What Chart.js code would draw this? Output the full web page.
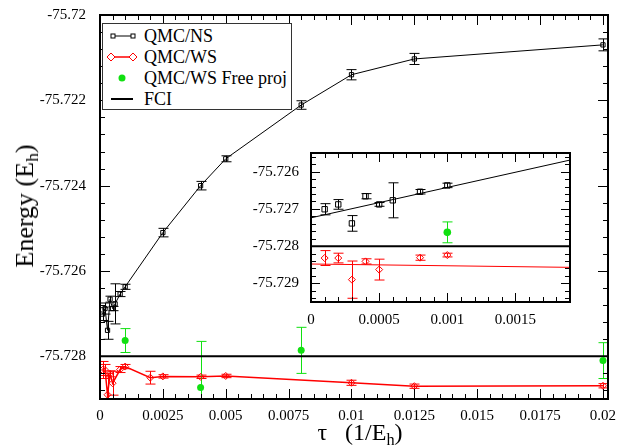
<!DOCTYPE html>
<html>
<head>
<meta charset="utf-8">
<script src="https://cdn.jsdelivr.net/npm/chart.js@4.4.1/dist/chart.umd.min.js"></script>
<style>
  html, body { margin: 0; padding: 0; background: #fff; }
  #wrap { position: relative; width: 623px; height: 447px; font-family: "Liberation Serif", "Times New Roman", serif; color: #000; }
  #main { position: absolute; left: 0; top: 0; }
  #inset { position: absolute; left: 240px; top: 140px; }
  .legend { position: absolute; left: 102px; top: 23px; width: 190px; height: 87px; border: 1px solid #333; background: #fff; box-sizing: border-box; }
  .lt { position: absolute; left: 144px; font-size: 18px; line-height: 20px; white-space: nowrap; }
  #sym { position: absolute; left: 0; top: 0; }
  .ytitle { position: absolute; left: 25px; top: 206px; font-size: 26px; white-space: nowrap; transform: translate(-50%, -50%) rotate(-90deg); }
  .xtitle { position: absolute; left: 360px; top: 419px; font-size: 24px; white-space: nowrap; transform: translateX(-50%); }
  .sub { font-size: 0.68em; position: relative; top: 0.3em; }
</style>
</head>
<body>
<div id="wrap">
  <canvas id="main" width="623" height="447"></canvas>
  <div class="legend"></div>
  <svg id="sym" width="623" height="447">
    <line x1="113" y1="36" x2="133" y2="36" stroke="#000" stroke-width="1"/>
    <rect x="111" y="34" width="4" height="4" fill="#fff" stroke="#000" stroke-width="1"/>
    <rect x="131" y="34" width="4" height="4" fill="#fff" stroke="#000" stroke-width="1"/>
    <line x1="111" y1="57" x2="133" y2="57" stroke="#f00" stroke-width="1.5"/>
    <polygon points="111,53 115,57 111,61 107,57" fill="#fff" stroke="#f00" stroke-width="1"/>
    <polygon points="133,53 137,57 133,61 129,57" fill="#fff" stroke="#f00" stroke-width="1"/>
    <circle cx="122" cy="78" r="3.5" fill="#11e011"/>
    <line x1="111" y1="99" x2="133" y2="99" stroke="#000" stroke-width="2"/>
  </svg>
  <div class="lt" style="top:26px">QMC/NS</div>
  <div class="lt" style="top:47px">QMC/WS</div>
  <div class="lt" style="top:68px">QMC/WS Free proj</div>
  <div class="lt" style="top:89px">FCI</div>
  <canvas id="inset" width="345" height="185"></canvas>
  <div class="ytitle">Energy (E<span class="sub">h</span>)</div>
  <div class="xtitle">τ&nbsp;&nbsp;&nbsp;(1/E<span class="sub">h</span>)</div>
</div>
<script>
// ── Data ───────────────────────────────────────────────────────────────────
const TAU_NS = [0.0001, 0.0002, 0.0003, 0.0004, 0.0005, 0.0006, 0.0008, 0.001, 0.0025, 0.004, 0.005, 0.008, 0.01, 0.0125, 0.02];
const E_NS   = [-75.72701, -75.72688, -75.72739, -75.72666, -75.72688, -75.72677, -75.72654, -75.72637, -75.7251, -75.724, -75.72337, -75.72211, -75.7214, -75.72103, -75.7207];
const ERR_NS = [0.00015, 0.00013, 0.00021, 0.00007, 0.00005, 0.00047, 0.00006, 0.00006, 0.0001, 0.0001, 0.00007, 0.0001, 0.00012, 0.00013, 0.00014];

const TAU_WS = [0.0001, 0.0002, 0.0003, 0.0004, 0.0005, 0.0008, 0.001, 0.002, 0.0025, 0.004, 0.005, 0.01, 0.0125, 0.02];
const E_WS   = [-75.72832, -75.72832, -75.7289, -75.72841, -75.72863, -75.72831, -75.72824, -75.7285, -75.72847, -75.72848, -75.72846, -75.72862, -75.7287, -75.72869];
const ERR_WS = [0.0002, 0.00013, 0.0005, 0.00007, 0.00028, 0.00007, 0.00005, 0.00015, 0.00004, 0.00004, 0.00004, 0.00006, 0.00005, 0.00005];

const TAU_FREE = [0.001, 0.004, 0.008, 0.02];
const E_FREE   = [-75.72763, -75.72873, -75.72786, -75.7281];
const ERR_FREE = [0.00028, 0.00108, 0.00054, 0.00042];

const FCI_E = -75.728;

// linear fits shown in the inset (end points)
const FIT_TAU = [0, 0.0019];
const FIT_NS  = [-75.72724, -75.72569];
const FIT_WS  = [-75.72848, -75.72857];

// axes
const X_RANGE = [0, 0.0202];
const Y_RANGE = [-75.729, -75.72];
const X_TICKS = [0, 0.0025, 0.005, 0.0075, 0.01, 0.0125, 0.015, 0.0175, 0.02];
const X_TICK_LABELS = ['0', '0.0025', '0.005', '0.0075', '0.01', '0.0125', '0.015', '0.0175', '0.02'];
const Y_TICKS = [-75.728, -75.726, -75.724, -75.722, -75.72];
const Y_TICK_LABELS = ['-75.728', '-75.726', '-75.724', '-75.722', '-75.72'];

const IN_X_RANGE = [0, 0.0019];
const IN_Y_RANGE = [-75.7295, -75.7255];
const IN_X_TICKS = [0, 0.0005, 0.001, 0.0015];
const IN_X_TICK_LABELS = ['0', '0.0005', '0.001', '0.0015'];
const IN_Y_TICKS = [-75.729, -75.728, -75.727, -75.726];
const IN_Y_TICK_LABELS = ['-75.729', '-75.728', '-75.727', '-75.726'];

const FONT = 'Liberation Serif';
const RED = '#ff0000';
const GREEN = '#11e011';

const pts = (xs, ys) => xs.map((x, i) => ({ x, y: ys[i] }));

// minor tick positions anchored on a major value, inside [lo, hi]
function minorTicks(anchor, step, lo, hi) {
  const out = [];
  const k0 = Math.ceil((lo - anchor) / step - 1e-6), k1 = Math.floor((hi - anchor) / step + 1e-6);
  for (let k = k0; k <= k1; k++) out.push(anchor + k * step);
  return out;
}

// ── Plugins ────────────────────────────────────────────────────────────────
const plotBg = {
  id: 'plotBg',
  beforeDraw(chart) {
    const { ctx, chartArea: a } = chart;
    ctx.save();
    ctx.fillStyle = '#fff';
    ctx.fillRect(a.left, a.top, a.right - a.left, a.bottom - a.top);
    ctx.restore();
  }
};

const errorBars = {
  id: 'errorBars',
  beforeDatasetsDraw(chart, args, opts) {
    const { ctx, chartArea: a, scales: { y } } = chart;
    ctx.save();
    ctx.beginPath();
    ctx.rect(a.left, a.top, a.right - a.left, a.bottom - a.top);
    ctx.clip();
    chart.data.datasets.forEach((ds, i) => {
      if (!ds.errors) return;
      const meta = chart.getDatasetMeta(i);
      ctx.strokeStyle = ds.pointBorderColor;
      ctx.lineWidth = 1;
      meta.data.forEach((pt, j) => {
        const v = ds.data[j].y, e = ds.errors[j];
        const px = Math.round(pt.x) + 0.5;
        const top = y.getPixelForValue(v + e), bot = y.getPixelForValue(v - e);
        const cap = opts.cap;
        ctx.beginPath();
        ctx.moveTo(px, top); ctx.lineTo(px, bot);
        ctx.moveTo(px - cap, top); ctx.lineTo(px + cap, top);
        ctx.moveTo(px - cap, bot); ctx.lineTo(px + cap, bot);
        ctx.stroke();
      });
    });
    ctx.restore();
  }
};

// inward ticks on all four sides + frame, xmgrace style
const frameTicks = {
  id: 'frameTicks',
  afterDraw(chart, args, o) {
    const { ctx, chartArea: a, scales: { x, y } } = chart;
    ctx.save();
    ctx.strokeStyle = '#000';
    ctx.lineWidth = 1;
    const seg = (x1, y1, x2, y2) => { ctx.beginPath(); ctx.moveTo(x1, y1); ctx.lineTo(x2, y2); ctx.stroke(); };
    const xt = (vals, len) => vals.forEach(v => {
      const p = Math.round(x.getPixelForValue(v)) + 0.5;
      seg(p, a.bottom, p, a.bottom - len);
      seg(p, a.top, p, a.top + len);
    });
    const yt = (vals, len) => vals.forEach(v => {
      const p = Math.round(y.getPixelForValue(v)) + 0.5;
      seg(a.left, p, a.left + len, p);
      seg(a.right, p, a.right - len, p);
    });
    xt(o.xMinor, o.minorLen); xt(o.xMajor, o.majorLen);
    yt(o.yMinor, o.minorLen); yt(o.yMajor, o.majorLen);
    ctx.lineWidth = 2;
    ctx.strokeRect(a.left, a.top, a.right - a.left, a.bottom - a.top);
    ctx.restore();
  }
};

function axis(range, ticks, labels, pad, fit) {
  return {
    type: 'linear', min: range[0], max: range[1],
    grid: { display: false }, border: { display: false },
    afterBuildTicks: s => { s.ticks = ticks.map(v => ({ value: v })); },
    afterFit: fit,
    ticks: {
      autoSkip: false, maxRotation: 0, padding: pad, color: '#000',
      font: { family: FONT, size: 15 },
      callback: (v, i) => labels[i]
    }
  };
}

// ── Main chart ─────────────────────────────────────────────────────────────
new Chart(document.getElementById('main'), {
  type: 'scatter',
  data: {
    datasets: [
      { label: 'QMC/NS', data: pts(TAU_NS, E_NS), errors: ERR_NS, showLine: true,
        borderColor: '#000', borderWidth: 1, pointStyle: 'rect', pointRadius: 3,
        pointBackgroundColor: 'rgba(0,0,0,0)', pointBorderColor: '#000', pointBorderWidth: 1 },
      { label: 'QMC/WS', data: pts(TAU_WS, E_WS), errors: ERR_WS, showLine: true,
        borderColor: RED, borderWidth: 1.5, pointStyle: 'rectRot', pointRadius: 3.5,
        pointBackgroundColor: 'rgba(0,0,0,0)', pointBorderColor: RED, pointBorderWidth: 1 },
      { label: 'QMC/WS Free proj', data: pts(TAU_FREE, E_FREE), errors: ERR_FREE, showLine: false,
        pointStyle: 'circle', pointRadius: 3.5, pointBackgroundColor: GREEN, pointBorderColor: GREEN, pointBorderWidth: 0 },
      { label: 'FCI', data: pts(X_RANGE, [FCI_E, FCI_E]), showLine: true,
        borderColor: '#000', borderWidth: 2, pointRadius: 0 }
    ]
  },
  options: {
    responsive: false, animation: false, devicePixelRatio: 1,
    layout: { padding: { top: 14, right: 15, left: 0, bottom: 0 } },
    scales: {
      x: axis(X_RANGE, X_TICKS, X_TICK_LABELS, 0, s => { s.height = 48; }),
      y: axis(Y_RANGE, Y_TICKS, Y_TICK_LABELS, 6, s => { s.width = 100; })
    },
    plugins: {
      legend: { display: false }, tooltip: { enabled: false },
      errorBars: { cap: 5 },
      frameTicks: {
        xMajor: X_TICKS, xMinor: minorTicks(0, 0.0005, X_RANGE[0], X_RANGE[1]),
        yMajor: Y_TICKS, yMinor: minorTicks(-75.728, 0.0004, Y_RANGE[0], Y_RANGE[1]),
        majorLen: 10, minorLen: 5
      }
    }
  },
  plugins: [errorBars, frameTicks]
});

// ── Inset ──────────────────────────────────────────────────────────────────
new Chart(document.getElementById('inset'), {
  type: 'scatter',
  data: {
    datasets: [
      { label: 'QMC/NS', data: pts(TAU_NS, E_NS), errors: ERR_NS, showLine: false,
        pointStyle: 'rect', pointRadius: 3.8,
        pointBackgroundColor: 'rgba(0,0,0,0)', pointBorderColor: '#000', pointBorderWidth: 1 },
      { label: 'QMC/WS', data: pts(TAU_WS, E_WS), errors: ERR_WS, showLine: false,
        pointStyle: 'rectRot', pointRadius: 3.5,
        pointBackgroundColor: 'rgba(0,0,0,0)', pointBorderColor: RED, pointBorderWidth: 1 },
      { label: 'QMC/WS Free proj', data: pts(TAU_FREE, E_FREE), errors: ERR_FREE, showLine: false,
        pointStyle: 'circle', pointRadius: 3.8, pointBackgroundColor: GREEN, pointBorderColor: GREEN, pointBorderWidth: 0 },
      { label: 'FCI', data: pts(IN_X_RANGE, [FCI_E, FCI_E]), showLine: true,
        borderColor: '#000', borderWidth: 2, pointRadius: 0 },
      { label: 'fit NS', data: pts(FIT_TAU, FIT_NS), showLine: true,
        borderColor: '#000', borderWidth: 1, pointRadius: 0 },
      { label: 'fit WS', data: pts(FIT_TAU, FIT_WS), showLine: true,
        borderColor: RED, borderWidth: 1, pointRadius: 0 }
    ]
  },
  options: {
    responsive: false, animation: false, devicePixelRatio: 1,
    layout: { padding: { top: 12, right: 15, left: 0, bottom: 0 } },
    scales: {
      x: axis(IN_X_RANGE, IN_X_TICKS, IN_X_TICK_LABELS, 1, s => { s.height = 23; }),
      y: axis(IN_Y_RANGE, IN_Y_TICKS, IN_Y_TICK_LABELS, 4, s => { s.width = 71; })
    },
    plugins: {
      legend: { display: false }, tooltip: { enabled: false },
      errorBars: { cap: 5 },
      frameTicks: {
        xMajor: IN_X_TICKS, xMinor: minorTicks(0, 0.0001, IN_X_RANGE[0], IN_X_RANGE[1]),
        yMajor: IN_Y_TICKS, yMinor: minorTicks(-75.726, 0.0002, IN_Y_RANGE[0], IN_Y_RANGE[1]),
        majorLen: 9, minorLen: 5
      }
    }
  },
  plugins: [plotBg, errorBars, frameTicks]
});
</script>
</body>
</html>
